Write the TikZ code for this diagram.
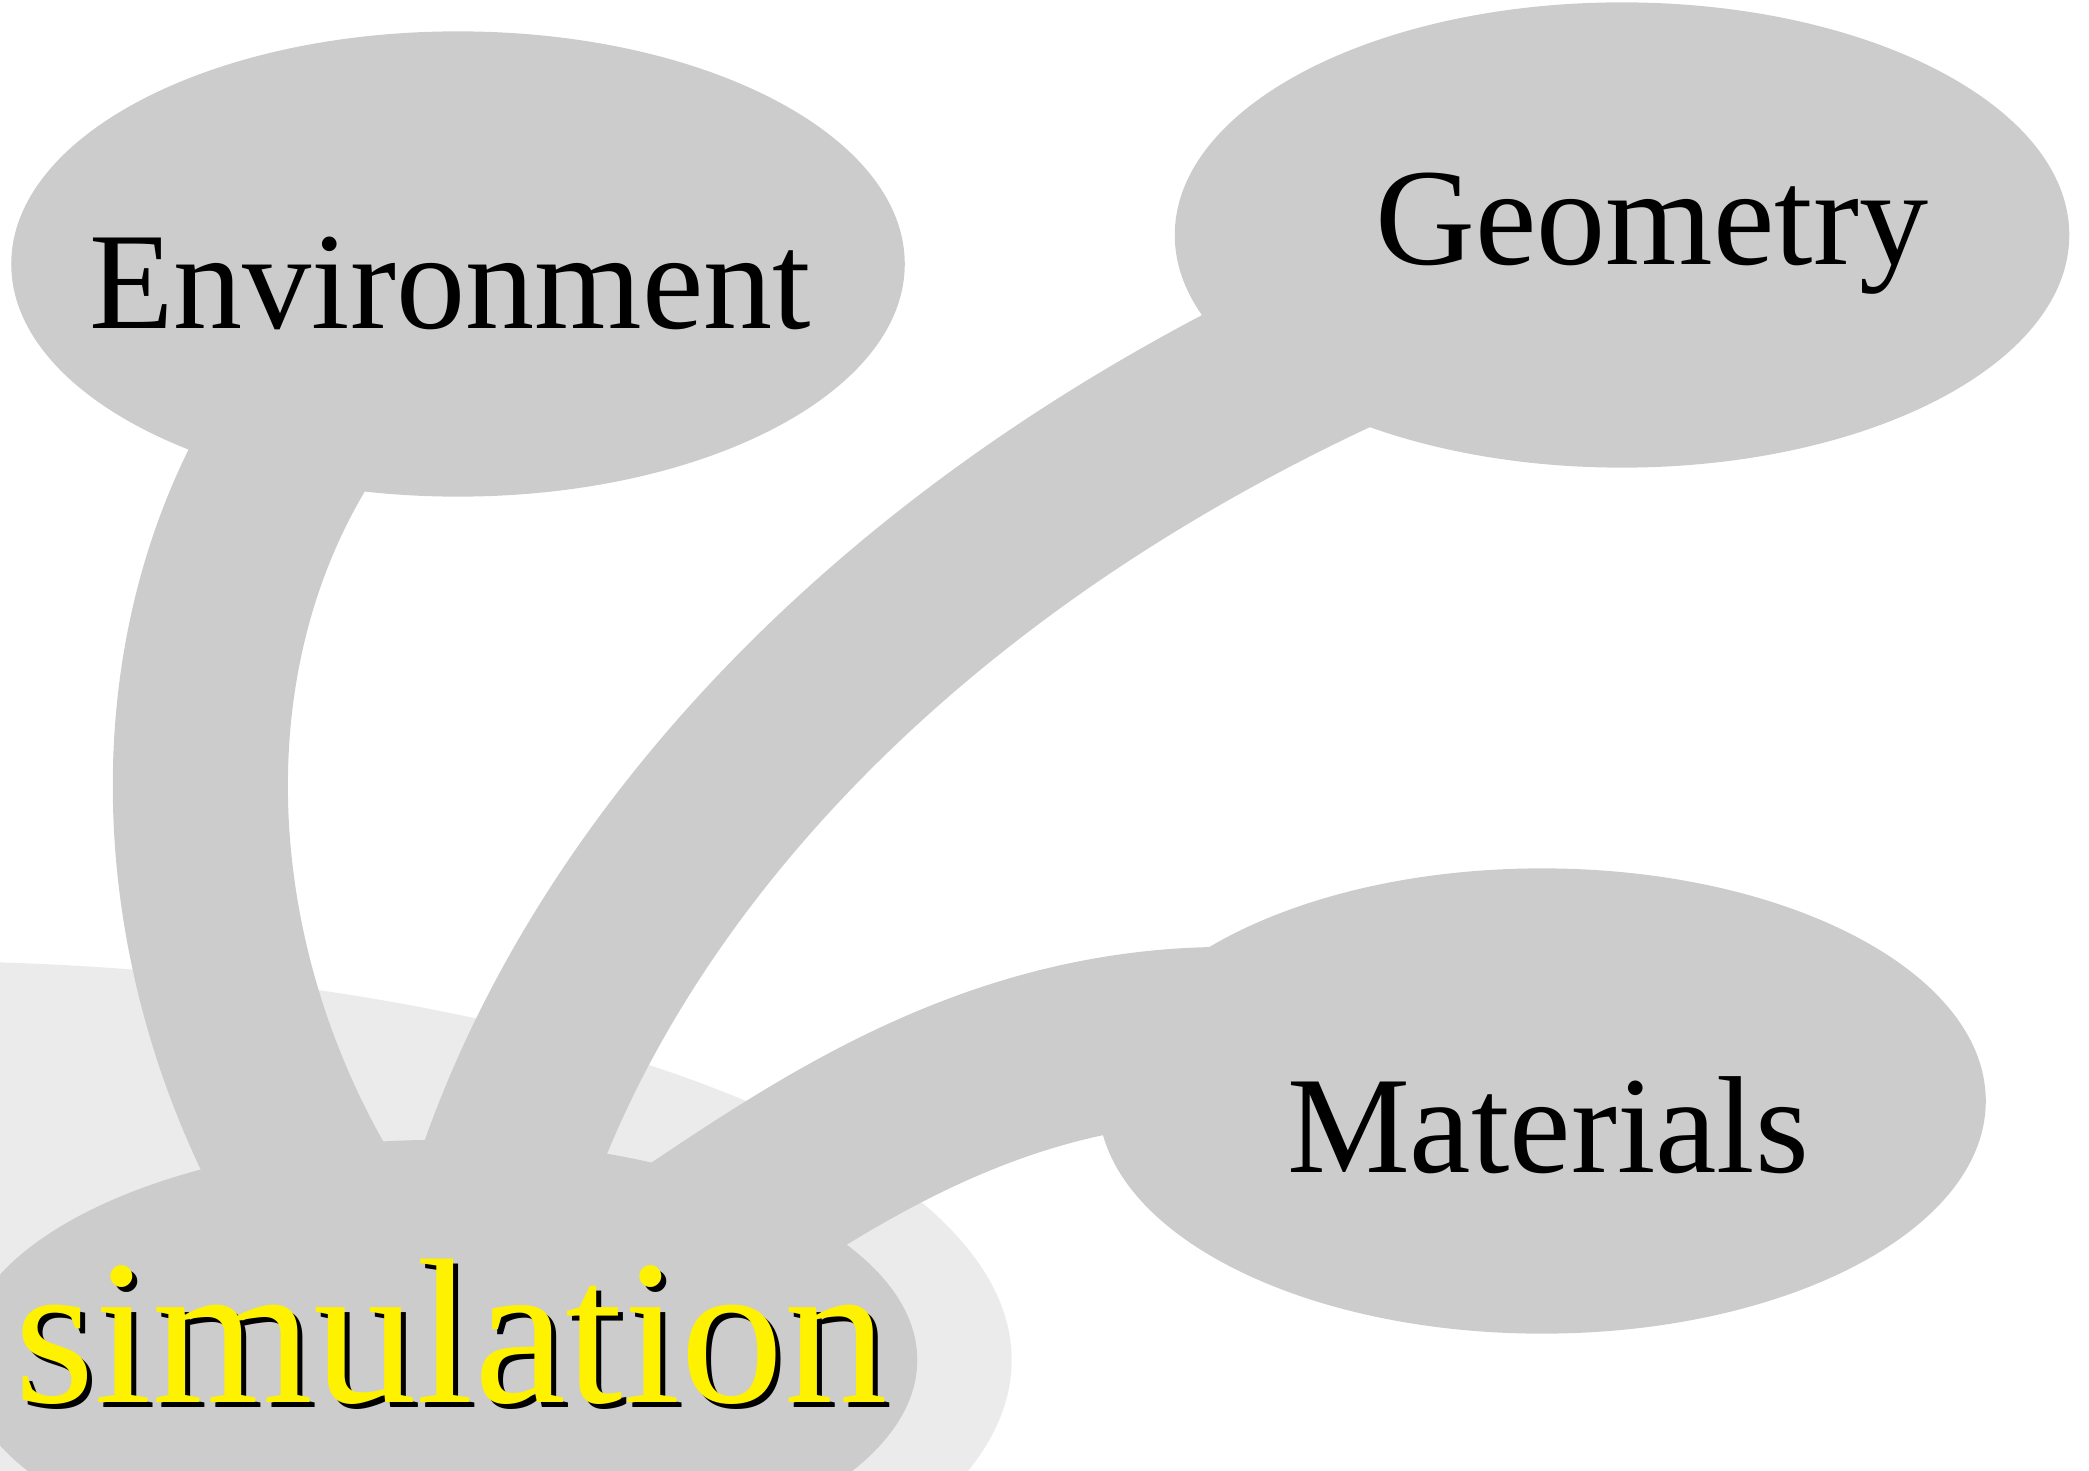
\documentclass[tikz,border=0pt]{standalone}
\usepackage{fontspec}
\setmainfont{Liberation Serif}
\usetikzlibrary{shapes.geometric}
\definecolor{conceptgray}{RGB}{204,204,204}
\definecolor{halogray}{RGB}{235,235,235}
\begin{document}
\begin{tikzpicture}[x=0.01cm,y=-0.01cm,
  concept/.style={ellipse, fill=conceptgray, draw=none, inner sep=0pt, outer sep=0pt},
  band/.style={line width=1.75cm, draw=conceptgray, line join=round},
  conceptlabel/.style={anchor=base, inner sep=0pt, text=black, font=\fontsize{39.3pt}{40pt}\selectfont},
  rootlabel/.style={anchor=base, inner sep=0pt, font=\fontsize{58.8pt}{60pt}\selectfont}]
\useasboundingbox (0,0) rectangle (2089,1470);
\clip (0,0) rectangle (2089,1470);
% background halo of the root concept
\node[ellipse, fill=halogray, draw=none, inner sep=0pt, minimum width=22.22cm, minimum height=7.98cm] (halo) at (-100,1360) {};
% concepts
\node[concept, minimum width=9.54cm, minimum height=4.40cm] (sim) at (440,1360) {};
\node[concept, minimum width=8.93cm, minimum height=4.65cm] (env) at (458,264) {};
\node[concept, minimum width=8.94cm, minimum height=4.65cm] (geo) at (1622,235) {};
\node[concept, minimum width=8.87cm, minimum height=4.65cm] (mat) at (1542,1101) {};
% connections
\coordinate (geostart) at (497,1200);
\draw[band] (sim.center) .. controls (135,1055) and (100,520) .. (env.center);
\draw[band] (sim.center) -- (geostart) .. controls (615,830) and (980,440) .. (geo.center);
\draw[band] (sim.center) .. controls (680,1350) and (950,860) .. (mat.center);
% texts
\node[conceptlabel] (envtext) at (450,328) {Environment};
\node[conceptlabel] (geotext) at (1652,265) {Geometry};
\node[conceptlabel] (mattext) at (1548,1172) {Materials};
\node[rootlabel, text=black] (simshadow) at (456,1407) {simulation};
\node[rootlabel, text=yellow] (simtext) at (451,1402) {simulation};
\end{tikzpicture}
\end{document}
